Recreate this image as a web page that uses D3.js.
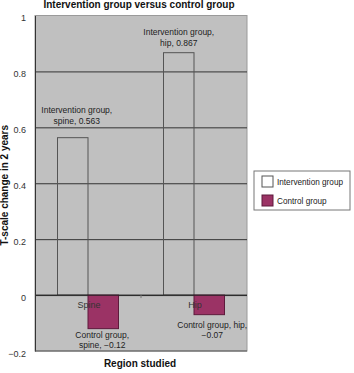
<!DOCTYPE html>
<html>
<head>
<meta charset="utf-8">
<script src="https://cdn.jsdelivr.net/npm/d3@7"></script>
<style>
  body { margin: 0; background: #fff; }
  text { font-family: "Liberation Sans", Arial, sans-serif; }
  .axis-text { font-size: 9px; fill: #333; }
  .axis-label { font-size: 10px; font-weight: bold; fill: #111; }
  .note { font-size: 8.5px; fill: #222; }
  .legend-text { font-size: 8.2px; fill: #222; }
</style>
</head>
<body>
<div id="chart"></div>
<script>
// data
const regions = ["Spine", "Hip"];
const groups = ["Intervention group", "Control group"];
const interventionValues = [0.563, 0.867];
const controlValues = [-0.12, -0.07];
const yTicks = [1, 0.8, 0.6, 0.4, 0.2, 0, -0.2];
const tickLabels = ["1", "0.8", "0.6", "0.4", "0.2", "0", "\u22120.2"];
const interventionNotes = [["Intervention group,", "spine, 0.563"], ["Intervention group,", "hip, 0.867"]];
const controlNotes = [["Control group,", "spine, \u22120.12"], ["Control group, hip,", "\u22120.07"]];

const totalW = 354, totalH = 373;
const margin = {top: 15.5, right: 107, bottom: 22, left: 35},
    width = totalW - margin.left - margin.right,
    height = totalH - margin.top - margin.bottom;

const svg = d3.select("#chart").append("svg")
    .attr("width", totalW)
    .attr("height", totalH);

const g = svg.append("g")
    .attr("transform", "translate(" + margin.left + "," + margin.top + ")");

// scales
const xScale = d3.scaleBand().domain(regions).range([0, width]).paddingInner(0).paddingOuter(0);
const xSub = d3.scaleBand().domain(groups).range([0, 61]);
const yScale = d3.scaleLinear().domain([-0.2, 1]).range([height, 0]);
const colorFill = d3.scaleOrdinal().domain(groups).range(["none", "#9b3365"]);
const colorStroke = d3.scaleOrdinal().domain(groups).range(["#555", "#5e1a3c"]);

// plot background
g.append("rect")
    .attr("width", width).attr("height", height)
    .attr("fill", "#c0c0c0")
    .attr("stroke", "#9a9a9a");

// horizontal grid
g.append("g")
    .call(d3.axisLeft(yScale).tickValues(yTicks.filter(d => d > -0.2 && d < 1)).tickSize(-width).tickFormat(""))
    .call(s => s.select(".domain").remove())
    .selectAll("line").attr("stroke", "#333").attr("stroke-width", 1);

// bars
const rows = regions.map((r, i) => ({region: r, values: [
  {group: groups[0], value: interventionValues[i], note: interventionNotes[i]},
  {group: groups[1], value: controlValues[i], note: controlNotes[i]}
]}));

const regionG = g.selectAll(".region")
    .data(rows)
    .enter().append("g")
    .attr("transform", d => "translate(" + (xScale(d.region) + xScale.bandwidth() / 2 - 30.5) + ",0)");

regionG.selectAll("rect")
    .data(d => d.values)
    .enter().append("rect")
    .attr("x", d => xSub(d.group))
    .attr("width", xSub.bandwidth())
    .attr("y", d => yScale(Math.max(0, d.value)))
    .attr("height", d => Math.abs(yScale(d.value) - yScale(0)))
    .attr("fill", d => colorFill(d.group))
    .attr("stroke", d => colorStroke(d.group))
    .attr("stroke-width", 1);

// zero line
g.append("line")
    .attr("x1", 0).attr("x2", width)
    .attr("y1", yScale(0)).attr("y2", yScale(0))
    .attr("stroke", "#222");
g.append("line")
    .attr("x1", xScale("Hip")).attr("x2", xScale("Hip"))
    .attr("y1", yScale(0)).attr("y2", yScale(0) + 3)
    .attr("stroke", "#777");

// category labels inside plot
g.selectAll(".cat")
    .data(regions)
    .enter().append("text")
    .attr("class", "axis-text")
    .attr("x", d => xScale(d) + xScale.bandwidth() / 2 + 1)
    .attr("y", yScale(0) + 13)
    .attr("text-anchor", "middle")
    .text(d => d);

// value notes
regionG.each(function(d) {
  const sel = d3.select(this);
  const iv = d.values[0], cv = d.values[1];
  const hip = d.region === "Hip";
  const ix = xSub(iv.group) + xSub.bandwidth() / 2;
  iv.note.forEach((line, k) => {
    sel.append("text").attr("class", "note")
      .attr("x", ix + (hip ? 0 : 4))
      .attr("y", yScale(iv.value) + (hip ? -17.5 : -24.5) + k * 11)
      .attr("text-anchor", "middle")
      .text(line);
  });
  const cx = xSub(cv.group) + xSub.bandwidth() / 2;
  cv.note.forEach((line, k) => {
    sel.append("text").attr("class", "note")
      .attr("x", cx + (hip ? 3 : -1))
      .attr("y", yScale(cv.value) + (hip ? 13 : 9) + k * 10.5)
      .attr("text-anchor", "middle")
      .text(line);
  });
});

// y axis
const yAxis = d3.axisLeft(yScale).tickValues(yTicks).tickSize(0).tickPadding(9)
    .tickFormat((d, i) => tickLabels[i]);
g.append("g")
    .call(yAxis)
    .call(s => s.select(".domain").attr("stroke", "#333"))
    .selectAll("text")
    .attr("class", "axis-text")
    .attr("dy", "0.6em");

// bottom line
g.append("line")
    .attr("x1", 0).attr("x2", width)
    .attr("y1", height).attr("y2", height)
    .attr("stroke", "#555");

// title
svg.append("text")
    .attr("class", "axis-label")
    .attr("x", 139).attr("y", 8)
    .attr("text-anchor", "middle")
    .text("Intervention group versus control group");

// axis labels
svg.append("text")
    .attr("class", "axis-label")
    .attr("text-anchor", "middle")
    .attr("transform", "translate(8," + (margin.top + height / 2 + 2) + ") rotate(-90)")
    .text("T-scale change in 2 years");

svg.append("text")
    .attr("class", "axis-label")
    .attr("text-anchor", "middle")
    .attr("x", 140).attr("y", 367)
    .text("Region studied");

// legend
const legend = svg.append("g").attr("transform", "translate(254,171)");
legend.append("rect")
    .attr("width", 96).attr("height", 39)
    .attr("fill", "#fff").attr("stroke", "#777");
legend.selectAll(".key")
    .data(groups)
    .enter().append("rect")
    .attr("x", 8).attr("y", (d, i) => 5 + i * 19)
    .attr("width", 11).attr("height", 11)
    .attr("fill", d => d === groups[0] ? "#fff" : colorFill(d))
    .attr("stroke", d => colorStroke(d));
legend.selectAll(".lab")
    .data(groups)
    .enter().append("text")
    .attr("class", "legend-text")
    .attr("x", 23).attr("y", (d, i) => 14 + i * 19)
    .text(d => d);
</script>
</body>
</html>
